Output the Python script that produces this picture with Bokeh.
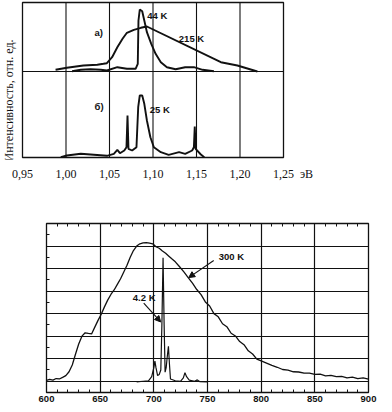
import math
from bokeh.plotting import figure
from bokeh.layouts import column
from bokeh.models import (Range1d, FixedTicker, Arrow, NormalHead,
                          LinearAxis, CustomJSTickFormatter)
from bokeh.core.properties import value
from bokeh.embed import file_html
from bokeh.resources import INLINE

# ---------------- top chart data (energy, eV; intensity, arb. units) -------------
e_ticks = [0.95, 1.00, 1.05, 1.10, 1.15, 1.20, 1.25]
e_grid = [1.00, 1.05, 1.10, 1.15, 1.20]
e_unit_pos = 1.2764          # where the unit "эВ" sits on the energy axis

# panel a) 215 K
e_215 = [0.988, 1.001, 1.020, 1.036, 1.043, 1.047, 1.053, 1.059, 1.065, 1.070,
         1.078, 1.086, 1.093, 1.178, 1.197, 1.220]
i_215 = [1.7, 3.7, 6.0, 6.7, 7.7, 8.3, 14.3, 24.3, 32.7, 38.7,
         41.7, 43.7, 45.0, 9.3, 6.0, 0.0]

# panel a) 44 K
e_44 = [1.007, 1.017, 1.028, 1.040, 1.047, 1.059, 1.070, 1.080, 1.0825, 1.0833,
        1.0848, 1.0876, 1.090, 1.093, 1.098, 1.103, 1.109, 1.116, 1.126, 1.137,
        1.147, 1.157, 1.170]
i_44 = [0.3, 1.7, 2.3, 1.7, 1.0, 4.3, 2.7, 2.7, 7.7, 51.0,
        62.0, 60.3, 51.0, 39.3, 27.7, 17.7, 9.3, 4.3, 2.3, 4.3,
        4.3, 1.7, 0.3]

# panel б) 25 K
e_25 = [0.994, 1.001, 1.017, 1.032, 1.047, 1.055, 1.059, 1.062, 1.067, 1.0695,
        1.0707, 1.0718, 1.076, 1.081, 1.083, 1.0848, 1.0876, 1.090, 1.093, 1.097,
        1.101, 1.109, 1.118, 1.130, 1.137, 1.145, 1.147, 1.148, 1.149, 1.155, 1.159]
i_25 = [0.3, 2.0, 3.7, 2.7, 1.7, 3.7, 7.7, 4.3, 7.0, 10.3,
        42.0, 8.7, 7.0, 10.3, 50.3, 62.0, 62.0, 53.7, 37.0, 20.3,
        10.3, 5.3, 2.7, 5.3, 3.7, 7.0, 10.3, 31.0, 8.7, 3.0, 0.3]

panel_b = (0.0, 86.0)     # panel б) spans 0..86 of the stacked scale
panel_a = (86.0, 155.0)   # panel a) spans 86..155

# ---------------- bottom chart data (wavelength, nm) ----------------------------
wl_ticks = [600, 650, 700, 750, 800, 850, 900]

wl_300 = [600, 603, 606, 609, 612, 615, 618, 621, 624, 627, 630, 633, 636, 639,
          642, 645, 648, 651, 654, 657, 660, 663, 666, 669, 672, 675, 678, 681,
          684, 687, 690, 693, 696, 699, 702, 705, 708, 711, 714, 717, 720, 724,
          728, 732, 736, 740, 744, 748, 752, 756, 760, 764, 768, 772, 776, 780,
          784, 788, 792, 796, 800, 805, 810, 815, 820, 825, 830, 835, 840, 845,
          850, 855, 860, 865, 870, 875, 880, 885, 890, 895, 900]
i_300 = [0.04, 0.08, 0.05, 0.12, 0.10, 0.17, 0.25, 0.42, 0.72, 1.20, 1.65, 2.00,
         2.15, 2.12, 2.10, 2.40, 2.70, 2.97, 3.30, 3.60, 3.85, 4.05, 4.30, 4.55,
         4.85, 5.15, 5.50, 5.80, 6.00, 6.10, 6.14, 6.15, 6.13, 6.10, 5.97, 5.90,
         5.78, 5.68, 5.55, 5.42, 5.30, 5.08, 4.85, 4.60, 4.35, 4.07, 3.84, 3.52,
         3.34, 3.00, 2.86, 2.55, 2.42, 2.13, 2.01, 1.76, 1.62, 1.35, 1.21, 0.98,
         0.90, 0.80, 0.70, 0.62, 0.52, 0.49, 0.42, 0.41, 0.36, 0.36, 0.30, 0.31,
         0.24, 0.26, 0.20, 0.22, 0.15, 0.18, 0.12, 0.15, 0.09]

wl_42 = [684, 690, 695, 698, 700, 701, 702, 703.5, 705, 706.5, 707.5, 708.6,
         709.6, 710.5, 711.5, 712.3, 713.6, 714.5, 715.5, 720, 725, 727.5, 729,
         730.5, 733, 738, 740.5, 743, 750]
i_42 = [-0.03, 0.0, 0.02, 0.2, 0.6, 0.89, 0.6, 0.25, 0.3, 0.5, 2.5, 5.48,
        2.5, 0.4, 0.6, 1.0, 1.55, 0.8, 0.1, 0.02, 0.0, 0.15, 0.38,
        0.2, 0.05, 0.0, 0.06, -0.02, -0.03]

INK = "#111111"
LAB_FONT = "Liberation Sans"
SERIF = "Liberation Serif"

# ================================ top figure =====================================
# the frame spans the whole width; the boxed plot area is drawn as glyphs
W = 384
PX_PER_EV = 261 / 0.30
x0 = e_ticks[0] - 22 / PX_PER_EV
p1 = figure(width=W, height=202,
            x_range=Range1d(x0, x0 + W / PX_PER_EV), y_range=Range1d(-2, 157),
            output_backend="svg", toolbar_location=None, y_axis_location=None,
            min_border_left=0, min_border_right=0, min_border_top=0, min_border_bottom=43)
p1.frame_align = False
p1.outline_line_color = None
p1.background_fill_color = "white"
p1.border_fill_color = "white"
p1.grid.visible = False

xa = p1.xaxis[0]
xa.ticker = FixedTicker(ticks=e_ticks + [e_unit_pos])
xa.formatter = CustomJSTickFormatter(
    code="return tick > 1.26 ? 'эВ' : tick.toFixed(2).replace('.', ',');")
xa.axis_line_color = None
xa.major_tick_line_color = None
xa.minor_tick_line_color = None
xa.major_tick_in = 0
xa.major_tick_out = 0
xa.major_label_standoff = 7
xa.major_label_text_font = SERIF
xa.major_label_text_font_size = "12px"
xa.major_label_text_color = INK

# box, grid lines
p1.quad(left=e_ticks[0], right=e_ticks[-1], bottom=panel_b[0], top=panel_a[1],
        fill_color=None, line_color=INK, line_width=1.3)
p1.segment(x0=e_grid, y0=[panel_b[0]] * len(e_grid), x1=e_grid, y1=[panel_a[1]] * len(e_grid),
           line_color=INK, line_width=1.1)
p1.segment(x0=[e_ticks[0]], y0=[panel_a[0]], x1=[e_ticks[-1]], y1=[panel_a[0]],
           line_color=INK, line_width=1.1)

p1.line(e_215, [v + panel_a[0] for v in i_215], line_color=INK, line_width=1.9)
p1.line(e_44, [v + panel_a[0] for v in i_44], line_color=INK, line_width=1.9)
p1.line(e_25, [v + panel_b[0] for v in i_25], line_color=INK, line_width=1.9)

p1.text(x=[1.0328, 1.0933, 1.1297, 1.0328, 1.0963], y=[125, 142, 118.7, 51, 48],
        text=["а)", "44 K", "215 K", "б)", "25 K"],
        text_font=value(LAB_FONT), text_font_size="9.5px", text_font_style="bold",
        text_color=INK, text_baseline="middle", text_align="left")

p1.text(x=[e_ticks[0] - 14 / PX_PER_EV], y=[57], text=["Интенсивность, отн. ед."],
        angle=math.pi / 2, text_font=value(SERIF), text_font_size="12px",
        text_color=INK, text_align="center", text_baseline="middle")

# ================================ bottom figure ==================================
p2 = figure(width=W, height=202, x_range=Range1d(600, 900), y_range=Range1d(-0.5, 7),
            output_backend="svg", toolbar_location=None,
            min_border_left=46, min_border_right=16, min_border_top=21, min_border_bottom=11)
p2.frame_align = False
p2.outline_line_color = INK
p2.outline_line_width = 1.3
p2.background_fill_color = "white"
p2.border_fill_color = "white"

x_minor = [m for m in range(600, 901, 10) if m % 50 != 0]
ba = p2.xaxis[0]
ba.ticker = FixedTicker(ticks=wl_ticks, minor_ticks=x_minor)
ba.axis_line_color = None
ba.major_tick_in = 0
ba.major_tick_out = 0
ba.minor_tick_in = 3
ba.minor_tick_out = 0
ba.minor_tick_line_color = INK
ba.major_label_standoff = 3
ba.major_label_text_font = LAB_FONT
ba.major_label_text_font_style = "bold"
ba.major_label_text_font_size = "9.5px"
ba.major_label_text_color = INK

top_ax = LinearAxis(ticker=FixedTicker(ticks=[], minor_ticks=x_minor), axis_line_color=None,
                    major_tick_in=0, major_tick_out=0, minor_tick_in=3, minor_tick_out=0,
                    minor_tick_line_color=INK)
p2.add_layout(top_ax, "above")

ya = p2.yaxis[0]
ya.ticker = FixedTicker(ticks=[], minor_ticks=[k + 0.5 for k in range(-1, 7)])
ya.axis_line_color = None
ya.major_tick_in = 0
ya.major_tick_out = 0
ya.minor_tick_in = 3
ya.minor_tick_out = 0
ya.minor_tick_line_color = INK

p2.xgrid.ticker = FixedTicker(ticks=wl_ticks[1:-1])
p2.xgrid.grid_line_color = INK
p2.xgrid.grid_line_width = 1.2
p2.ygrid.ticker = FixedTicker(ticks=list(range(0, 7)))
p2.ygrid.grid_line_color = INK
p2.ygrid.grid_line_width = 1.2

p2.line(wl_300, i_300, line_color=INK, line_width=1.3)
p2.line(wl_42, i_42, line_color=INK, line_width=1.2)

p2.text(x=[760.4, 680.4], y=[5.55, 3.70], text=["300 K", "4.2 K"],
        text_font=value(LAB_FONT), text_font_size="9.5px", text_font_style="bold",
        text_color=INK, text_baseline="middle", text_align="left")

p2.add_layout(Arrow(end=NormalHead(size=6, fill_color=INK, line_color=INK),
                    x_start=755.8, y_start=5.36, x_end=732.5, y_end=4.60,
                    line_color=INK, line_width=1.1))
p2.add_layout(Arrow(end=NormalHead(size=6, fill_color=INK, line_color=INK),
                    x_start=690.6, y_start=3.47, x_end=706.4, y_end=2.63,
                    line_color=INK, line_width=1.1))

layout = column(p1, p2, spacing=0)
open("out.html", "w").write(file_html(layout, INLINE))
